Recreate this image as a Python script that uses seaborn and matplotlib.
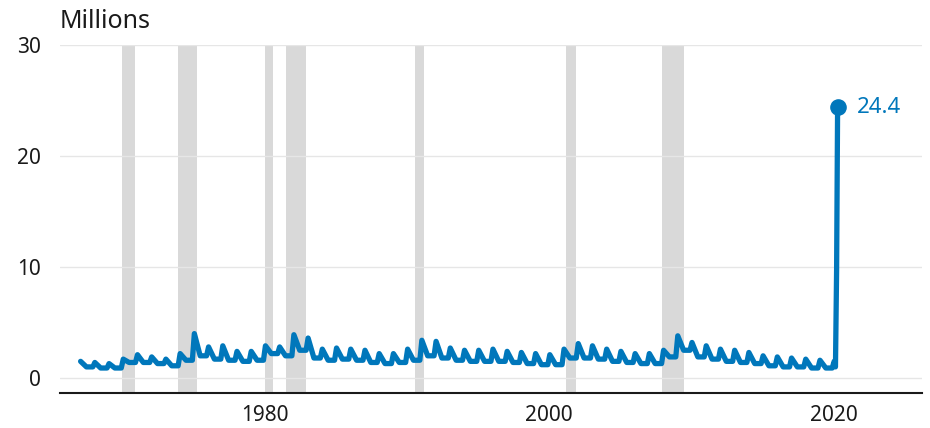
import numpy as np
import pandas as pd
import seaborn as sns
import matplotlib.pyplot as plt

sns.set_style('white')
plt.rcParams['font.family'] = ['Noto Sans', 'DejaVu Sans']

# yearly January spike and low level between spikes, millions
years = list(range(1967, 2020))
jan_peak = [1.5, 1.4, 1.3, 1.7, 2.1, 1.9, 1.7, 2.2, 4.0, 2.8,
            2.9, 2.4, 2.4, 2.9, 2.8, 3.9, 3.6, 2.6, 2.7, 2.6,
            2.5, 2.2, 2.2, 2.6, 3.4, 3.3, 2.7, 2.5, 2.5, 2.6,
            2.4, 2.3, 2.2, 2.1, 2.6, 3.1, 2.9, 2.6, 2.4, 2.2,
            2.2, 2.5, 3.8, 3.2, 2.9, 2.6, 2.5, 2.3, 2.0, 1.9,
            1.8, 1.7, 1.6]
year_low = [1.0, 0.9, 0.9, 1.4, 1.4, 1.3, 1.1, 1.6, 2.0, 1.7,
            1.6, 1.5, 1.6, 2.2, 2.0, 2.5, 1.8, 1.6, 1.7, 1.6,
            1.4, 1.3, 1.4, 1.6, 2.0, 1.8, 1.6, 1.5, 1.5, 1.5,
            1.4, 1.3, 1.2, 1.2, 1.8, 1.8, 1.7, 1.5, 1.4, 1.3,
            1.3, 1.9, 2.5, 1.9, 1.7, 1.5, 1.4, 1.3, 1.1, 1.0,
            1.0, 0.9, 0.9]
last_dates = [2020.04, 2020.13, 2020.21, 2020.28]
last_values = [1.5, 1.0, 9.7, 24.4]

recessions = [(1969.92, 1970.88), (1973.88, 1975.21), (1980.0, 1980.54),
              (1981.5, 1982.88), (1990.54, 1991.21), (2001.17, 2001.88),
              (2007.92, 2009.46)]

t, v = [], []
for y, p, lo in zip(years, jan_peak, year_low):
    t += [y + 0.04, y + 0.45, y + 0.9]
    v += [p, lo, lo]
t += last_dates
v += last_values
df = pd.DataFrame({'date': t, 'claims': v})

blue = '#0077bb'
dark = '#1a1a1a'
fig = plt.figure(figsize=(9.3, 4.28), dpi=100)
ax = fig.add_axes([0.0645, 0.0818, 0.9265, 0.8131])

for a, b in recessions:
    ax.axvspan(a, b, color='#d9d9d9', lw=0, zorder=0)

sns.lineplot(data=df, x='date', y='claims', color=blue, lw=3.8, ax=ax,
             zorder=3, solid_joinstyle='round')
ax.scatter([last_dates[-1]], [last_values[-1]], s=120, color=blue, zorder=4)
ax.text(last_dates[-1] + 1.35, last_values[-1], '24.4', color=blue,
        fontsize=16, va='center', ha='left')

ax.set_xlim(1965.59, 2026.19)
ax.set_ylim(-1.35, 30)
ax.set_yticks([0, 10, 20, 30])
ax.set_xticks([1980, 2000, 2020])
ax.yaxis.grid(True, color='#e6e6e6', lw=1)
ax.set_axisbelow(True)
for s in ['top', 'right', 'left']:
    ax.spines[s].set_visible(False)
ax.spines['bottom'].set_color(dark)
ax.spines['bottom'].set_linewidth(1.5)
ax.tick_params(axis='x', length=6, width=1.5, color=dark, labelsize=15,
               labelcolor=dark, pad=3)
ax.tick_params(axis='y', length=0, labelsize=15, labelcolor=dark, pad=14)
ax.set_xlabel(None)
ax.set_ylabel(None)
fig.text(0.0645, 0.978, 'Millions', fontsize=18, color=dark,
         ha='left', va='top')

fig.savefig('out.png', dpi=100)
